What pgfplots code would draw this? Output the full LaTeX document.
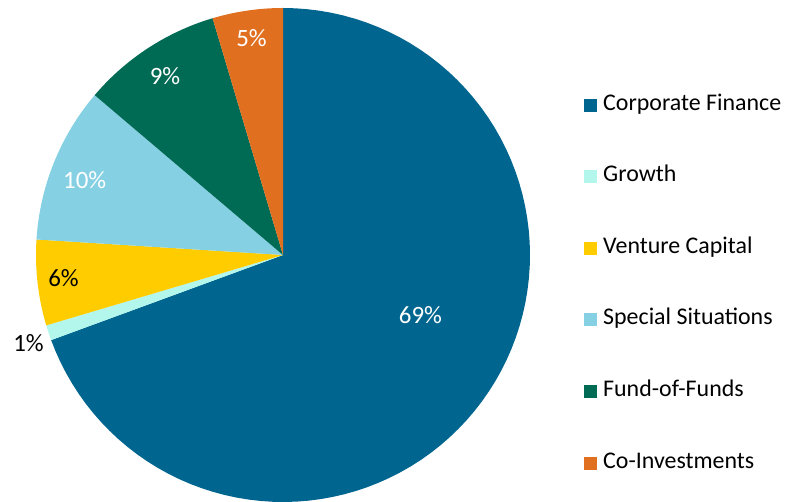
\documentclass[border=0pt]{standalone}
\usepackage{pgfplots}
\usepackage{pgfplotstable}
\pgfplotsset{compat=1.18}
\usepackage{fontspec}
\setmainfont{Carlito}
\definecolor{cf}{HTML}{00668F}
\definecolor{gr}{HTML}{B3F7EC}
\definecolor{vc}{HTML}{FFCC00}
\definecolor{ss}{HTML}{86D0E3}
\definecolor{ff}{HTML}{006B54}
\definecolor{co}{HTML}{E07020}
\pgfplotstableread[col sep=comma]{
pct,col,name
69.4,cf,Corporate Finance
1.0,gr,Growth
5.6,vc,Venture Capital
10.2,ss,Special Situations
9.2,ff,Fund-of-Funds
4.6,co,Co-Investments
}\piedata
\begin{document}
\begin{tikzpicture}
\begin{axis}[
  width=786bp, height=502bp, scale only axis,
  xmin=0, xmax=786, ymin=0, ymax=502,
  hide axis, clip=false,
  legend cell align=left,
  legend image code/.code={\path[#1,draw=none] (0bp,-6.5bp) rectangle (13bp,6.5bp);},
  legend style={draw=none, fill=none, at={(axis cs:584,408)}, anchor=north west,
    inner sep=0pt, row sep=49.6bp, font=\fontsize{24}{28}\selectfont,
    nodes={inner sep=0pt, text height=16bp, text depth=6bp},
    /tikz/every odd column/.append style={column sep=6bp}},
]
\path (axis cs:0,0) rectangle (axis cs:786,502);
\pgfplotstablegetrowsof{\piedata}
\pgfmathtruncatemacro\lastrow{\pgfplotsretval-1}
\gdef\angstart{90}
\pgfplotsforeachungrouped \i in {0,...,\lastrow}{%
  \pgfplotstablegetelem{\i}{pct}\of\piedata \let\pct\pgfplotsretval
  \pgfplotstablegetelem{\i}{col}\of\piedata \let\col\pgfplotsretval
  \pgfplotstablegetelem{\i}{name}\of\piedata \let\nm\pgfplotsretval
  \pgfmathsetmacro\angend{\angstart-3.6*\pct}%
  \edef\doplot{\noexpand\addplot[fill=\col, draw=none, domain=\angend:\angstart, samples=90]
    ({283+247*cos(x)},{247+247*sin(x)}) -- (axis cs:283,247) -- cycle;
    \noexpand\addlegendentry{\nm}}%
  \doplot
  \global\let\angstart\angend
}
\begin{scope}[font=\fontsize{25}{30}\selectfont, every node/.style={anchor=base, inner sep=0pt}]
\node[white] at (axis cs:420.5,178) {69\%};
\node[black] at (axis cs:28.5,150) {1\%};
\node[black] at (axis cs:63.5,215) {6\%};
\node[white] at (axis cs:84.7,313) {10\%};
\node[white] at (axis cs:165,417) {9\%};
\node[white] at (axis cs:251.5,455) {5\%};
\end{scope}
\end{axis}
\end{tikzpicture}
\end{document}
